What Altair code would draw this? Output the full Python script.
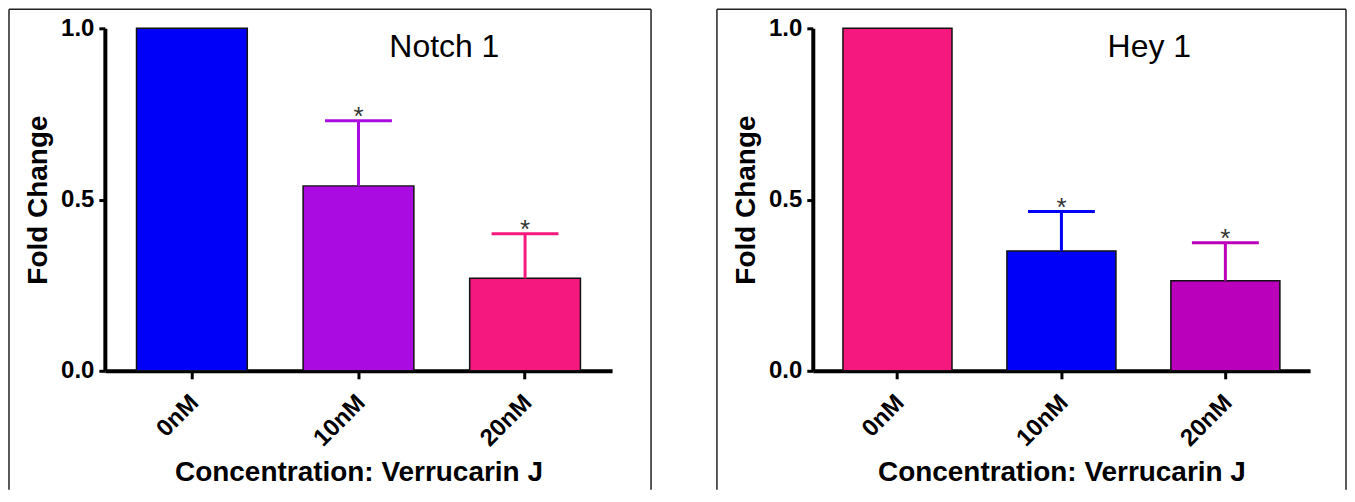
import altair as alt
import pandas as pd

categories = ["0nM", "10nM", "20nM"]
notch_values = [1.0, 0.54, 0.27]
notch_upper = [None, 0.73, 0.40]
notch_colors = ["#0000F8", "#A90BE0", "#F5187E"]
hey_values = [1.0, 0.35, 0.263]
hey_upper = [None, 0.465, 0.374]
hey_colors = ["#F5187E", "#0000F8", "#BB00BB"]
panel_titles = ["Notch 1", "Hey 1"]
y_ticks = [0.0, 0.5, 1.0]
x_title = "Concentration: Verrucarin J"
y_title = "Fold Change"
star = "*"

FONT = "Liberation Sans"
PLOT_H = 343
FRAME_TOP = -19
FRAME_BOTTOM = 462


def panel(values, upper, colors, title, width, pad_outer, frame_left, frame_right, title_x):
    df = pd.DataFrame({"cat": categories, "val": values, "upper": upper, "color": colors})
    err = df.dropna(subset=["upper"])
    one = pd.DataFrame({"k": [0]})

    xscale = alt.Scale(domain=categories, paddingInner=0.335, paddingOuter=pad_outer)
    yscale = alt.Scale(domain=[0, 1], nice=False, zero=True)

    x_axis = alt.Axis(
        title=x_title, labelAngle=-45, labelAlign="right", labelBaseline="middle",
        labelFont=FONT, labelFontSize=24, labelFontWeight="bold", labelColor="black",
        labelPadding=20, labelOffset=3,
        tickSize=8, tickWidth=3, tickColor="black",
        domainColor="black", domainWidth=4,
        titleFont=FONT, titleFontSize=28, titleFontWeight="bold", titleColor="black",
        titlePadding=8,
    )
    y_axis = alt.Axis(
        title=y_title, values=y_ticks, format=".1f",
        labelFont=FONT, labelFontSize=24, labelFontWeight="bold", labelColor="black",
        labelPadding=5, grid=False,
        tickSize=6, tickWidth=3, tickColor="black",
        domainColor="black", domainWidth=4,
        titleFont=FONT, titleFontSize=28, titleFontWeight="bold", titleColor="black",
        titlePadding=8,
    )

    X = alt.X("cat:N", sort=categories, scale=xscale, axis=x_axis)

    bars = alt.Chart(df).mark_bar(stroke="#111111", strokeWidth=1.5).encode(
        x=X,
        y=alt.Y("val:Q", scale=yscale, axis=y_axis),
        color=alt.Color("color:N", scale=None),
    )
    whiskers = alt.Chart(err).mark_rule(strokeWidth=3, opacity=1).encode(
        x=X,
        y=alt.Y("val:Q", scale=yscale, axis=y_axis),
        y2="upper:Q",
        color=alt.Color("color:N", scale=None),
    )
    caps = alt.Chart(err).mark_tick(thickness=3, size=67, opacity=1).encode(
        x=X,
        y=alt.Y("upper:Q", scale=yscale, axis=y_axis),
        color=alt.Color("color:N", scale=None),
    )
    stars = alt.Chart(err).mark_text(
        text=star, font=FONT, fontSize=26, color="#333333", baseline="alphabetic", dy=4
    ).encode(
        x=X,
        y=alt.Y("upper:Q", scale=yscale, axis=y_axis),
    )
    label = alt.Chart(one).mark_text(
        text=title, font=FONT, fontSize=32, color="black", align="center", baseline="alphabetic"
    ).encode(x=alt.value(title_x), y=alt.value(29))

    frame_l = alt.Chart(one).mark_rule(color="#222222", strokeWidth=1.5).encode(
        x=alt.value(frame_left), y=alt.value(FRAME_TOP), y2=alt.value(FRAME_BOTTOM))
    frame_r = alt.Chart(one).mark_rule(color="#222222", strokeWidth=1.5).encode(
        x=alt.value(frame_right), y=alt.value(FRAME_TOP), y2=alt.value(FRAME_BOTTOM))
    frame_t = alt.Chart(one).mark_rule(color="#222222", strokeWidth=1.5).encode(
        x=alt.value(frame_left), x2=alt.value(frame_right), y=alt.value(FRAME_TOP))

    return alt.layer(bars, whiskers, caps, stars, label, frame_l, frame_r, frame_t).properties(
        width=width, height=PLOT_H
    )


left = panel(notch_values, notch_upper, notch_colors, panel_titles[0], 508, 0.19, -96, 547, 340)
right = panel(hey_values, hey_upper, hey_colors, panel_titles[1], 498, 0.184, -96, 534, 337)

chart = alt.hconcat(left, right, spacing=64, padding=0).configure(
    background="white", view=alt.ViewConfig(stroke=None)
)

chart.save("out.html", embed_options={"renderer": "svg", "actions": False})
